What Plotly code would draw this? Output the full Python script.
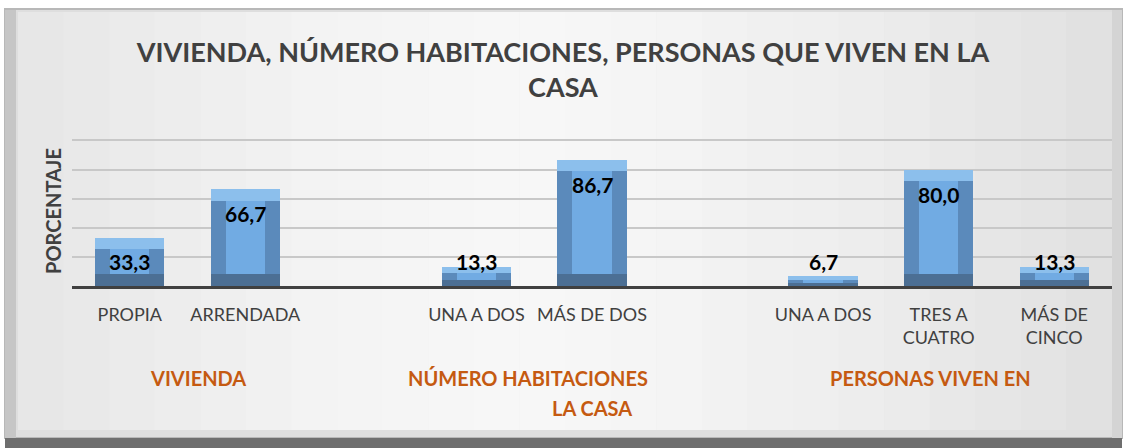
import plotly.graph_objects as go

# ---- data ----
groups = ["VIVIENDA", "NÚMERO HABITACIONES", "PERSONAS VIVEN EN"]
group_categories = [
    ["PROPIA", "ARRENDADA"],
    ["UNA A DOS", "MÁS DE DOS"],
    ["UNA A DOS", "TRES A<br>CUATRO", "MÁS DE<br>CINCO"],
]
group_values = [
    [33.3, 66.7],
    [13.3, 86.7],
    [6.7, 80.0, 13.3],
]
title_text = "VIVIENDA, NÚMERO HABITACIONES, PERSONAS QUE VIVEN EN LA<br>CASA"
y_title = "PORCENTAJE"
extra_group_line = "LA CASA"
grid_values = [20, 40, 60, 80, 100]

# ---- layout constants ----
W, H = 1126, 448
ML, MR, MT, MB = 72, 14, 136, 162
FONT = "Lato, 'Open Sans', sans-serif"

# slot positions: one empty slot between groups
xs, cats, vals, gcenters = [], [], [], []
slot = 0
for gi, (cs, vs) in enumerate(zip(group_categories, group_values)):
    start = slot
    for c, v in zip(cs, vs):
        xs.append(slot); cats.append(c); vals.append(v)
        slot += 1
    gcenters.append((start + slot - 1) / 2)
    slot += 1
last_slot = xs[-1]

bev = [min(8.0, v / 3.0) for v in vals]

fig = go.Figure()
# side colour (full bar)
fig.add_trace(go.Bar(x=xs, y=vals, width=0.6, marker=dict(color="#5b8abb", line=dict(width=0)),
                     hoverinfo="skip", showlegend=False))
# bottom dark band
fig.add_trace(go.Bar(x=xs, y=bev, width=0.6, marker=dict(color="#4c6f94", line=dict(width=0)),
                     hoverinfo="skip", showlegend=False))
# top light band
fig.add_trace(go.Bar(x=xs, y=bev, base=[v - b for v, b in zip(vals, bev)], width=0.6,
                     marker=dict(color="#8cbfec", line=dict(width=0)),
                     hoverinfo="skip", showlegend=False))
# inner face
fig.add_trace(go.Bar(x=xs, y=[v - 2 * b for v, b in zip(vals, bev)], base=bev, width=0.34,
                     marker=dict(color="#71abe3", line=dict(width=0)),
                     hoverinfo="skip", showlegend=False))

# data labels
for x, v in zip(xs, vals):
    fig.add_annotation(x=x, y=max(v - 17, 17), text=f"{v:.1f}".replace(".", ","),
                       showarrow=False, font=dict(family=FONT, size=21, color="#000000", weight="bold"),
                       xanchor="center", yanchor="middle")

# group labels
gshift = [10, -6, -8]
for g, c, s in zip(groups, gcenters, gshift):
    fig.add_annotation(x=c, xshift=s, y=0, yref="paper", yshift=-92, text=g, showarrow=False,
                       font=dict(family=FONT, size=20, color="#c55a11", weight="bold"),
                       xanchor="center", yanchor="middle")
fig.add_annotation(x=gcenters[1] + 0.5, y=0, yref="paper", yshift=-122, text=extra_group_line,
                   showarrow=False, font=dict(family=FONT, size=20, color="#c55a11", weight="bold"),
                   xanchor="center", yanchor="middle")

# frame shapes (pixel -> paper)
pw, ph = W - ML - MR, H - MT - MB
def px(x):
    return (x - ML) / pw
def py(y):
    return (H - MB - y) / ph

shapes = [
    dict(type="rect", xref="paper", yref="paper", x0=px(5), x1=px(1122), y0=py(438), y1=py(9),
         fillcolor="#dedede", line=dict(color="#b8b8b8", width=2), layer="below"),
]
# soft horizontal gradient: darker at edges, lighter in the middle
steps = 24
x_left, x_right = 18, 1112
for i in range(steps):
    t = i / (steps - 1)
    d = abs(t - 0.45) / 0.55
    c = int(round(247 - 22 * min(1.0, d) ** 1.5))
    xa = x_left + (x_right - x_left) * i / steps
    xb = x_left + (x_right - x_left) * (i + 1) / steps
    shapes.append(dict(type="rect", xref="paper", yref="paper", x0=px(xa), x1=px(xb + 0.5),
                       y0=py(430), y1=py(12), fillcolor=f"rgb({c},{c},{c})",
                       line=dict(width=0), layer="below"))
shapes += [
    dict(type="rect", xref="paper", yref="paper", x0=px(5), x1=px(1122), y0=py(448), y1=py(438),
         fillcolor="#6e6e6e", line=dict(width=0), layer="below"),
    dict(type="rect", xref="paper", yref="paper", x0=px(5), x1=px(16), y0=py(438), y1=py(10),
         fillcolor="#c6c6c6", line=dict(width=0), layer="below"),
    dict(type="rect", xref="paper", yref="paper", x0=px(1112), x1=px(1122), y0=py(438), y1=py(10),
         fillcolor="#d4d4d4", line=dict(width=0), layer="below"),
]

fig.update_layout(
    width=W, height=H,
    margin=dict(l=ML, r=MR, t=MT, b=MB),
    paper_bgcolor="#ffffff", plot_bgcolor="rgba(0,0,0,0)",
    barmode="overlay", bargap=0,
    shapes=shapes,
    title=dict(text=title_text, x=0.5, xanchor="center", xref="container",
               y=1 - 62 / H, yanchor="middle", yref="container",
               font=dict(family=FONT, size=27, color="#404040", weight="bold")),
    font=dict(family=FONT),
)
fig.update_xaxes(range=[-0.5, last_slot + 0.5], tickvals=xs, ticktext=cats, showgrid=False,
                 zeroline=False, showline=True, linecolor="#404040", linewidth=3,
                 ticks="", tickfont=dict(family=FONT, size=18, color="#404040"),
                 ticklabelstandoff=10, fixedrange=True)
fig.update_yaxes(range=[0, 103], tickvals=grid_values, showgrid=True,
                 gridcolor="#c8c8c8", gridwidth=1.5,
                 zeroline=False, showticklabels=False, showline=False,
                 title=dict(text=y_title, standoff=4,
                            font=dict(family=FONT, size=20, color="#404040", weight="bold")),
                 fixedrange=True)

fig.write_html("out.html", config={"displayModeBar": False},
               post_script="document.body.style.margin='0';")
